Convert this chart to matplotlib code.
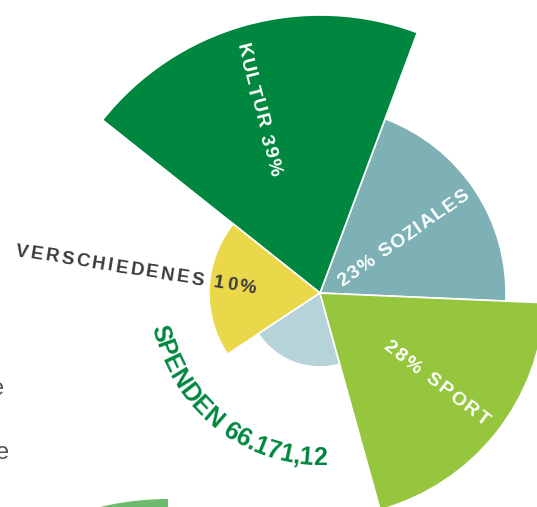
import numpy as np
import matplotlib
matplotlib.use("Agg")
import matplotlib.pyplot as plt
from matplotlib.font_manager import FontProperties, findfont, get_font
from matplotlib.patches import Wedge

try:
    from matplotlib.ft2font import Kerning
    KERN = Kerning.DEFAULT
except ImportError:
    KERN = 0

W, H = 537, 507
DPI = 100

# wedges, counter-clockwise from the right
categories = ["Soziales", "Kultur", "Verschiedenes", "Ohne Angabe", "Sport"]
shares = [23, 39, 10, None, 28]
radii = [186, 278, 111, 74, 225]          # wedge length
colors = ["#7db1b6", "#00873f", "#ead74a", "#b5d3d8", "#95c63e"]
start_deg = -2.5
total_label = "SPENDEN 66.171,12"

CX, CY = 320, H - 293                      # centre of the rose in pixels (y up)
R_AX = 300


def char_widths(s, fp):
    font = get_font(findfont(fp))
    font.set_size(fp.get_size_in_points(), DPI)
    px = fp.get_size_in_points() * DPI / 72
    out = []
    for i, ch in enumerate(s):
        w = font.load_char(ord(ch)).linearHoriAdvance / 65536
        if i + 1 < len(s):
            k = 0
            try:
                k = font.get_kerning(font.get_char_index(ord(ch)),
                                     font.get_char_index(ord(s[i + 1])), KERN) / 64
            except Exception:
                pass
            if k == 0 and ch + s[i + 1] == "LT":
                k = -0.09 * px
            w += k
        out.append(w)
    return out


def spread(ws, D):
    # centres of chars so that first..last centre span exactly D
    n = len(ws)
    c = np.cumsum([0] + ws[:-1]) + np.array(ws) / 2
    g = (D - (c[-1] - c[0])) / (n - 1)
    return c + g * np.arange(n) - c[0]


def spaced_line(ax, s, p0, p1, fp, color):
    # p0 / p1 = centres of first and last character (picture coords, y down)
    x0, y0 = p0[0], H - p0[1]
    x1, y1 = p1[0], H - p1[1]
    c = spread(char_widths(s, fp), np.hypot(x1 - x0, y1 - y0))
    ang = np.arctan2(y1 - y0, x1 - x0)
    d = np.array([np.cos(ang), np.sin(ang)])
    up = np.array([-np.sin(ang), np.cos(ang)])
    cap = 0.72 * fp.get_size_in_points() * DPI / 72
    for ch, ci in zip(s, c):
        p = np.array([x0, y0]) + ci * d - up * cap / 2
        ax.text(p[0], p[1], ch, fontproperties=fp, color=color, rotation=np.degrees(ang),
                rotation_mode="anchor", ha="center", va="baseline")


def curved(ax, s, r, a0, a1, fp, color):
    c = spread(char_widths(s, fp), np.radians(a1 - a0) * r)
    cap = 0.72 * fp.get_size_in_points() * DPI / 72
    for ch, ci in zip(s, c):
        th = np.radians(a0) + ci / r
        rb = r + cap / 2                     # baseline lies outside, letters face the centre
        x = CX + rb * np.cos(th)
        y = CY + rb * np.sin(th)
        ax.text(x, y, ch, fontproperties=fp, color=color, rotation=np.degrees(th) + 90,
                rotation_mode="anchor", ha="center", va="baseline")


fig = plt.figure(figsize=(W / DPI, H / DPI), dpi=DPI)
fig.patch.set_facecolor("white")

pax = fig.add_axes([(CX - R_AX) / W, (CY - R_AX) / H, 2 * R_AX / W, 2 * R_AX / H], projection="polar")
step = 360 / len(categories)
theta = np.radians(start_deg + step / 2 + step * np.arange(len(categories)))
pax.bar(theta, radii, width=np.radians(step), color=colors, edgecolor="white", linewidth=1.2)
pax.set_ylim(0, R_AX)
pax.set_axis_off()

ov = fig.add_axes([0, 0, 1, 1])
ov.set_xlim(0, W)
ov.set_ylim(0, H)
ov.set_axis_off()
ov.patch.set_alpha(0)

# piece of the next chart peeking in at the bottom
ov.add_patch(Wedge((168, -285), 293, 90, 112, facecolor="#6dbc6d", edgecolor="none"))

# cut-off body text on the left margin
ov.text(4, H - 395, "e", ha="right", va="baseline", fontsize=17, color="#555555", family="Liberation Sans")
ov.text(9, H - 459, "e", ha="right", va="baseline", fontsize=17, color="#555555", family="Liberation Sans")

f_white = FontProperties(family="Liberation Sans", weight="bold", size=14)
f_grey = FontProperties(family="Liberation Sans", weight="bold", size=13.5)
f_total = FontProperties(family="Liberation Sans", weight="bold", size=18)

spaced_line(ov, f"KULTUR {shares[1]}%", (245, 50), (275, 167), f_white, "white")
spaced_line(ov, f"{shares[0]}% SOZIALES", (343, 278), (461, 195), f_white, "white")
spaced_line(ov, f"{shares[4]}% SPORT", (391, 346), (484, 417), f_white, "white")
spaced_line(ov, f"VERSCHIEDENES {shares[2]}%", (22, 250), (248, 286), f_grey, "#3c3c3c")
curved(ov, total_label, 163, 194, 270, f_total, "#00873f")

fig.savefig("out.png", dpi=DPI, facecolor="white")
